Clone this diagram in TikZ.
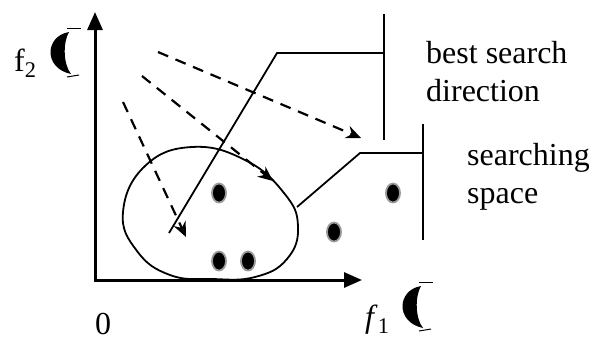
\documentclass[tikz,border=0pt]{standalone}
\usepackage{fontspec}
\setmainfont{Liberation Serif}
\usetikzlibrary{arrows.meta,shapes.geometric}
\tikzset{
  axisline/.style={line width=3pt,{Triangle[length=18pt,width=15pt]}-{Triangle[length=18pt,width=15pt]}},
  leader/.style={line width=1.8pt},
  dasharrow/.style={line width=2.2pt,dash pattern=on 11pt off 8pt,-{Stealth[length=15pt,width=13pt,inset=5pt]}},
  seed/.style={ellipse,fill=black,draw=black!40,line width=1.8pt,minimum width=14pt,minimum height=19pt,inner sep=0pt},
  lbl/.style={anchor=north west,align=left,inner sep=0pt},
  moon/.pic={
    \fill (0,0) .. controls (-24,4) and (-26,36) .. (2,42) .. controls (-6,32) and (-6,10) .. cycle;
    \draw[line width=1pt] (-2,-4) -- (12,-4);
    \draw[line width=1pt] (-2,45) -- (10,43);
  },
}
\begin{document}
\begin{tikzpicture}[x=1pt,y=-1pt,font=\fontsize{32}{38}\selectfont]
  \useasboundingbox (0,0) rectangle (589,341);
  % axes
  \coordinate (o) at (95,280);
  \coordinate (ytop) at (95,12);
  \coordinate (xend) at (362,280);
  \draw[axisline] (ytop) -- (o) -- (xend);
  \node[anchor=base,inner sep=0pt] (zero) at (103,334) {0};
  \node[anchor=base west,inner sep=0pt] (f1) at (365,327) {\textit{f}\textsubscript{1}};
  \pic at (421,286) {moon};
  \node[anchor=base west,inner sep=0pt] (f2) at (14,71) {f\textsubscript{2}};
  \pic at (69,32) {moon};
  % searching space
  \draw[line width=1.8pt] plot[smooth cycle,tension=0.75] coordinates
    {(123,212) (145,166) (192,147) (245,160) (284,193) (298,226) (287,259) (255,277) (212,279) (170,275) (137,251)};
  \node[seed] (d1) at (219,193) {};
  \node[seed] (d2) at (219,261) {};
  \node[seed] (d3) at (248,261) {};
  \node[seed] (d4) at (334,232) {};
  \node[seed] (d5) at (393,193) {};
  % search directions
  \coordinate (s1) at (123,102);
  \coordinate (e1) at (186,237);
  \coordinate (s2) at (142,76);
  \coordinate (e2) at (273,181);
  \coordinate (s3) at (158,52);
  \coordinate (e3) at (361,138);
  \draw[dasharrow] (s1) -- (e1);
  \draw[dasharrow] (s2) -- (e2);
  \draw[dasharrow] (s3) -- (e3);
  % callouts
  \node[lbl] (best) at (426,41) {best search\\direction};
  \node[lbl] (space) at (467,143) {searching\\space};
  \coordinate (b1top) at (384,14);
  \coordinate (b1bot) at (384,140);
  \coordinate (b1mid) at (384,53);
  \coordinate (k1) at (277,53);
  \coordinate (t1) at (169,233);
  \draw[leader] (b1top) -- (b1bot);
  \draw[leader] (b1mid) -- (k1) -- (t1);
  \coordinate (b2top) at (423,124);
  \coordinate (b2bot) at (423,240);
  \coordinate (b2mid) at (423,153);
  \coordinate (k2) at (360,153);
  \coordinate (t2) at (297,207);
  \draw[leader] (b2top) -- (b2bot);
  \draw[leader] (b2mid) -- (k2) -- (t2);
\end{tikzpicture}
\end{document}
